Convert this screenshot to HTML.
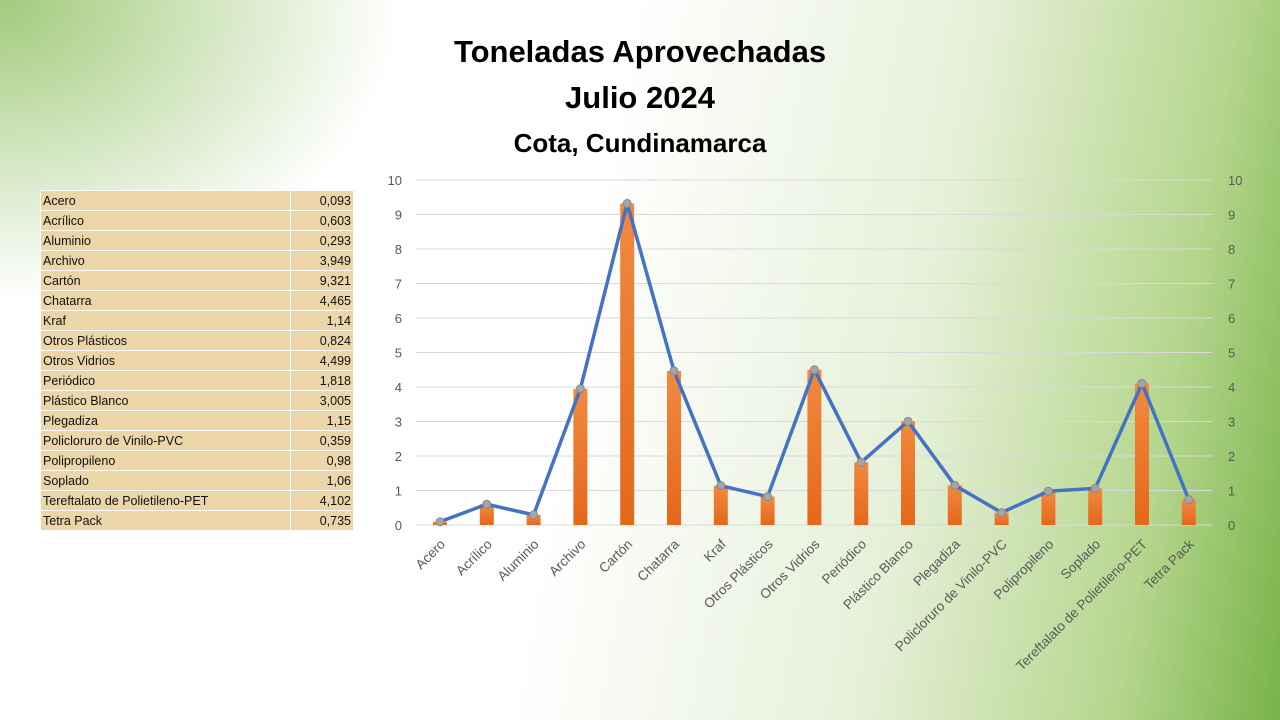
<!DOCTYPE html>
<html><head><meta charset="utf-8"><style>
body{margin:0;width:1280px;height:720px;overflow:hidden;font-family:"Liberation Sans",sans-serif;
background:
radial-gradient(ellipse 400px 300px at 0px 0px, rgba(130,185,80,0.75), rgba(130,185,80,0) 100%),
linear-gradient(100deg, #ffffff 0%, #ffffff 45%, #e6f0d8 70%, #b5d68e 88%, #78b348 100%);
position:relative}
.t{position:absolute;left:0;width:1280px;text-align:center;font-weight:bold;color:#000}
table{position:absolute;left:40px;top:190px;border-collapse:collapse;font-size:12.5px;width:314px}
td{height:20px;padding:0 2px;border:1px solid #fff;background:#ecd5a6;color:#111;box-sizing:border-box}
td:last-child{text-align:right;width:63px}
</style></head><body>
<div class="t" style="top:34px;font-size:31px">Toneladas Aprovechadas</div>
<div class="t" style="top:80px;font-size:31px">Julio 2024</div>
<div class="t" style="top:128px;font-size:26px">Cota, Cundinamarca</div>
<table>
<tr><td>Acero</td><td>0,093</td></tr><tr><td>Acrílico</td><td>0,603</td></tr><tr><td>Aluminio</td><td>0,293</td></tr><tr><td>Archivo</td><td>3,949</td></tr><tr><td>Cartón</td><td>9,321</td></tr><tr><td>Chatarra</td><td>4,465</td></tr><tr><td>Kraf</td><td>1,14</td></tr><tr><td>Otros Plásticos</td><td>0,824</td></tr><tr><td>Otros Vidrios</td><td>4,499</td></tr><tr><td>Periódico</td><td>1,818</td></tr><tr><td>Plástico Blanco</td><td>3,005</td></tr><tr><td>Plegadiza</td><td>1,15</td></tr><tr><td>Policloruro de Vinilo-PVC</td><td>0,359</td></tr><tr><td>Polipropileno</td><td>0,98</td></tr><tr><td>Soplado</td><td>1,06</td></tr><tr><td>Tereftalato de Polietileno-PET</td><td>4,102</td></tr><tr><td>Tetra Pack</td><td>0,735</td></tr>
</table>
<svg width="1280" height="720" style="position:absolute;left:0;top:0" font-family="Liberation Sans, sans-serif">
<defs><linearGradient id="o" x1="0" y1="0" x2="0" y2="1"><stop offset="0" stop-color="#f08a40"/><stop offset="1" stop-color="#e5671a"/></linearGradient></defs>
<g id="g"></g>
</svg>
<script>
const v=[0.093,0.603,0.293,3.949,9.321,4.465,1.14,0.824,4.499,1.818,3.005,1.15,0.359,0.98,1.06,4.102,0.735];
const n=["Acero","Acrílico","Aluminio","Archivo","Cartón","Chatarra","Kraf","Otros Plásticos","Otros Vidrios","Periódico","Plástico Blanco","Plegadiza","Policloruro de Vinilo-PVC","Polipropileno","Soplado","Tereftalato de Polietileno-PET","Tetra Pack"];
let s="";const Y=u=>525-34.5*u,X=i=>440+i*46.8;
for(let k=0;k<=10;k++){s+=`<line x1="416" x2="1212" y1="${Y(k)}" y2="${Y(k)}" stroke="#d9d9d9"/>`;
s+=`<text x="402" y="${Y(k)+5}" font-size="13" fill="#595959" text-anchor="end">${k}</text><text x="1228" y="${Y(k)+5}" font-size="13" fill="#595959">${k}</text>`;}
v.forEach((u,i)=>{s+=`<rect x="${X(i)-7}" y="${Y(u)}" width="14" height="${525-Y(u)}" fill="url(#o)"/>`;
s+=`<text transform="translate(${X(i)+6},545) rotate(-45)" font-size="13.5" fill="#595959" text-anchor="end">${n[i]}</text>`;});
s+=`<polyline fill="none" stroke="#4472c4" stroke-width="3.5" stroke-linejoin="round" points="${v.map((u,i)=>X(i)+","+Y(u)).join(" ")}"/>`;
v.forEach((u,i)=>{s+=`<circle cx="${X(i)}" cy="${Y(u)}" r="4" fill="#a5a5a5" stroke="#8a8a8a"/>`});
document.getElementById("g").innerHTML=s;
</script>
</body></html>
